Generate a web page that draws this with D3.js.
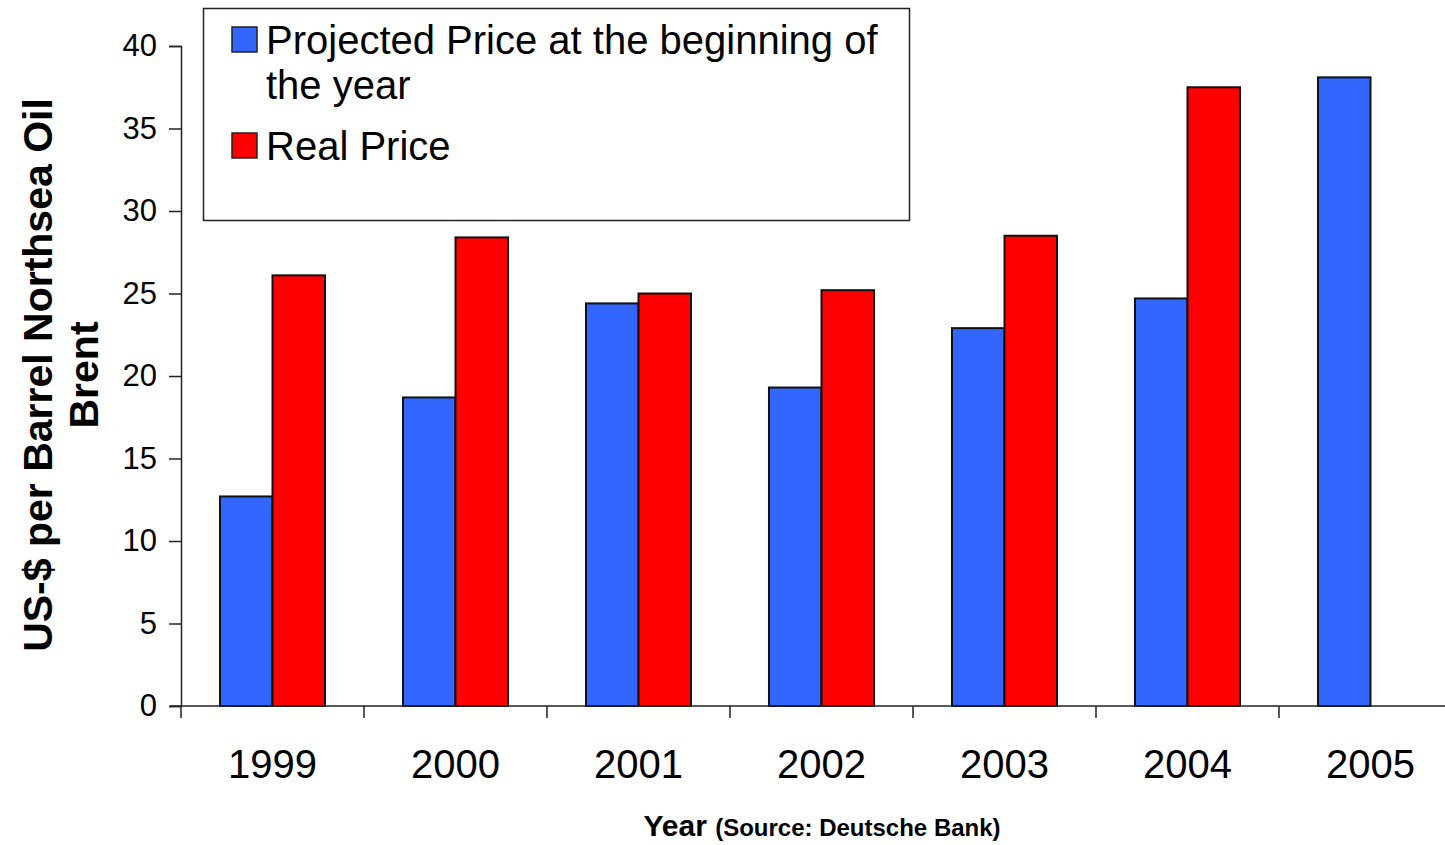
<!DOCTYPE html>
<meta charset="utf-8">
<head>
    <script type="text/javascript" src="https://cdn.jsdelivr.net/npm/d3@7"></script>
    <style>
        body { margin: 0; background: white; }
        svg { display: block; font-family: "Liberation Sans", Arial, sans-serif; }
    </style>
    <title></title>
</head>
<body>
<script>

    var years = ["1999", "2000", "2001", "2002", "2003", "2004", "2005"]
    var projected = [12.7, 18.7, 24.4, 19.3, 22.9, 24.7, 38.1]
    var real = [26.1, 28.4, 25.0, 25.2, 28.5, 37.5, null]
    var seriesNames = ["Projected Price at the beginning of the year", "Real Price"]
    var yTicks = [0, 5, 10, 15, 20, 25, 30, 35, 40]

    var width = 1445
    var height = 845

    var svg = d3.select("body").append("svg")
        .attr("width", width)
        .attr("height", height)

    var x = d3.scaleBand()
        .domain(years)
        .range([181, 181 + 7 * 183])
        .paddingInner(0.426)
        .paddingOuter(0.213)

    var xs = d3.scaleBand()
        .domain(["p", "r"])
        .range([0, x.bandwidth()])

    var y = d3.scaleLinear()
        .domain([0, 40])
        .range([706, 46])

    var colors = { p: "#3366ff", r: "#ff0000" }

    var rows = years.map(function (yr, i) {
        return { year: yr, p: projected[i], r: real[i] }
    })

    // bars
    var groups = svg.append("g").selectAll("g")
        .data(rows)
        .enter().append("g")
        .attr("transform", d => "translate(" + x(d.year) + ",0)")

    groups.selectAll("rect")
        .data(d => ["p", "r"].filter(k => d[k] != null).map(k => ({ key: k, value: d[k] })))
        .enter().append("rect")
        .attr("x", d => xs(d.key))
        .attr("width", xs.bandwidth())
        .attr("y", d => y(d.value))
        .attr("height", d => y(0) - y(d.value))
        .style("fill", d => colors[d.key])
        .style("stroke", "#111")
        .style("stroke-width", 2)

    // y axis
    var yAxis = svg.append("g")
        .attr("transform", "translate(181,0)")
        .call(d3.axisLeft(y).tickValues(yTicks).tickSize(12).tickPadding(12))
    yAxis.select(".domain").attr("stroke", "#222").attr("stroke-width", 1.5)
    yAxis.selectAll(".tick line").attr("stroke", "#222").attr("stroke-width", 1.5)
    yAxis.selectAll("text")
        .style("font-size", "31px")
        .style("font-family", "Liberation Sans, Arial, sans-serif")
        .attr("fill", "#000")

    // x axis
    var xAxisScale = d3.scaleLinear().domain([0, 7]).range([181, 181 + 7 * 183])
    var xAxis = svg.append("g")
        .attr("transform", "translate(0,706)")
    xAxis.append("line")
        .attr("x1", 170).attr("x2", width)
        .attr("y1", 0).attr("y2", 0)
        .attr("stroke", "#222").attr("stroke-width", 1.5)
    xAxis.selectAll(".xt")
        .data(d3.range(0, 8))
        .enter().append("line")
        .attr("x1", d => xAxisScale(d)).attr("x2", d => xAxisScale(d))
        .attr("y1", 0).attr("y2", 12)
        .attr("stroke", "#222").attr("stroke-width", 1.5)
    xAxis.selectAll(".xl")
        .data(years)
        .enter().append("text")
        .attr("x", d => x(d) + x.bandwidth() / 2)
        .attr("y", 72)
        .attr("text-anchor", "middle")
        .style("font-size", "40px")
        .text(d => d)

    // axis titles
    var xt = svg.append("text")
        .attr("x", 822)
        .attr("y", 836)
        .attr("text-anchor", "middle")
        .style("font-weight", "bold")
    xt.append("tspan").style("font-size", "30px").text("Year ")
    xt.append("tspan").style("font-size", "24px").text("(Source: Deutsche Bank)")

    var yt = svg.append("text")
        .attr("transform", "translate(52,375) rotate(-90)")
        .attr("text-anchor", "middle")
        .style("font-weight", "bold")
        .style("font-size", "41px")
    yt.append("tspan").attr("x", 0).attr("dy", 0).text("US-$ per Barrel Northsea Oil")
    yt.append("tspan").attr("x", 0).attr("dy", 46).text("Brent")

    // legend
    var legend = svg.append("g")
    legend.append("rect")
        .attr("x", 203.5).attr("y", 8.5)
        .attr("width", 706).attr("height", 212)
        .style("fill", "white")
        .style("stroke", "#222")
        .style("stroke-width", 1.5)

    var legendItems = [
        { key: "p", lines: ["Projected Price at the beginning of", "the year"], y: 27 },
        { key: "r", lines: [seriesNames[1]], y: 133 }
    ]
    legendItems.forEach(function (item) {
        legend.append("rect")
            .attr("x", 232).attr("y", item.y)
            .attr("width", 25).attr("height", 25)
            .style("fill", colors[item.key])
            .style("stroke", "#222")
            .style("stroke-width", 1.5)
        item.lines.forEach(function (ln, j) {
            legend.append("text")
                .attr("x", 266)
                .attr("y", item.y + 27 + j * 45)
                .style("font-size", "40px")
                .text(ln)
        })
    })

</script>
</body>
</html>
